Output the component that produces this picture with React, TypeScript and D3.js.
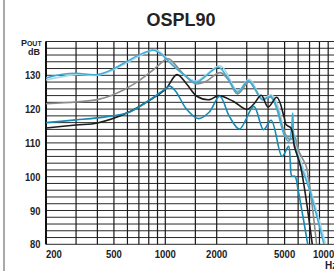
import * as d3 from "d3";
import { useEffect, useRef } from "react";

// frequency (Hz), level (dB)
const lightBlue: [number, number][] = [
  [200, 129.2], [250, 130.3], [300, 130.6], [400, 130.2], [500, 132.0], [600, 134.2],
  [700, 136.0], [850, 137.4], [950, 136.2], [1100, 133.0], [1300, 130.0], [1500, 127.8],
  [1700, 129.5], [2050, 132.4], [2300, 129.5], [2650, 125.0], [3050, 128.4], [3300, 126.5],
  [3700, 122.8], [4150, 123.8], [4500, 120.0], [5000, 112.0], [5300, 110.5], [5480, 114.0],
  [5580, 118.8], [5680, 110.5], [6000, 105.5], [7000, 96.0], [8500, 80.0],
];
const paleBlue: [number, number][] = [
  [200, 128.6], [300, 130.2], [400, 130.0], [500, 131.7], [700, 135.6], [870, 137.6],
  [1000, 135.5], [1100, 133.3], [1500, 128.3], [2100, 132.8], [2650, 125.4], [3100, 128.8],
  [3700, 123.2], [4200, 124.2], [4600, 120.5], [5100, 112.0], [5500, 111.0], [5700, 112.5],
  [6100, 106.0], [7000, 97.0], [8700, 80.0],
];
const grey: [number, number][] = [
  [200, 121.6], [300, 122.1], [400, 122.8], [500, 124.3], [650, 127.3], [830, 131.2],
  [1000, 134.6], [1050, 134.9], [1150, 133.0], [1300, 130.0], [1500, 127.5], [1700, 128.0],
  [2100, 130.8], [2350, 128.5], [2650, 124.5], [3100, 128.2], [3300, 126.5], [3700, 122.8],
  [4150, 123.5], [4500, 120.5], [5000, 113.0], [5400, 111.0], [5700, 112.0], [6000, 108.0],
  [6500, 104.5], [6700, 103.0], [7700, 80.0],
];
const black: [number, number][] = [
  [200, 114.4], [300, 115.3], [400, 115.9], [600, 118.9], [800, 122.5], [1000, 125.8],
  [1170, 130.2], [1330, 127.5], [1530, 123.8], [1820, 122.8], [2050, 124.0], [2500, 122.3],
  [3000, 119.9], [3300, 121.5], [3650, 124.1], [4000, 120.6], [4500, 123.5], [4950, 117.9],
  [5100, 115.4], [5450, 114.4], [5700, 109.0], [6200, 103.0], [7260, 80.0],
];
const teal: [number, number][] = [
  [200, 116.0], [300, 116.8], [400, 117.4], [600, 118.9], [800, 122.5], [1000, 126.0],
  [1060, 126.8], [1150, 125.3], [1330, 120.0], [1560, 117.2], [1800, 119.0], [2085, 123.8],
  [2370, 117.9], [2720, 114.1], [3300, 120.8], [3760, 113.9], [4170, 116.7], [4830, 106.0],
  [5270, 109.0], [5400, 104.0], [5510, 100.2], [5750, 100.1], [6000, 96.0], [6830, 80.0],
];

const series = [
  { name: "pale", data: paleBlue, color: "#a8d8ec" },
  { name: "grey", data: grey, color: "#8c8c8c" },
  { name: "lightBlue", data: lightBlue, color: "#3eaed8" },
  { name: "black", data: black, color: "#1c1c1c" },
  { name: "teal", data: teal, color: "#168ab2" },
];

const freqGrid = [200, 300, 400, 500, 600, 700, 800, 900, 1000, 1500, 2000, 3000, 4000, 5000, 6000, 7000, 8000, 9000, 10000];
const freqLabels = [200, 500, 1000, 2000, 5000, 10000];
const dbLabels = [80, 90, 100, 110, 120, 130];

const App = () => {
  const svgRef = useRef<SVGSVGElement>(null);
  useEffect(() => {
    if (!svgRef.current) return;
    const svg = d3.select(svgRef.current);
    svg.selectAll("*").remove();
    const width = 334;
    const height = 271;
    const marginLeft = 46;
    const plotRight = 336;
    const marginTop = 41.5;
    const plotBottom = 244.3;
    const font = "'Liberation Sans', Arial, sans-serif";

    const x = d3.scaleLog().domain([200, 10000]).range([marginLeft, plotRight]);
    const y = d3.scaleLinear().domain([80, 140]).range([plotBottom, marginTop]);

    svg.append("rect").attr("width", width).attr("height", height).attr("fill", "white");

    // outer frame on the left
    svg.append("line").attr("x1", 4).attr("x2", 4).attr("y1", 0).attr("y2", height)
      .attr("stroke", "#555").attr("stroke-width", 1);

    svg.append("text").attr("x", 181).attr("y", 26).attr("text-anchor", "middle")
      .attr("font-family", font).attr("font-weight", "bold").attr("font-size", 18)
      .attr("fill", "#222").text("OSPL90");

    // grid
    const grid = svg.append("g");
    grid.selectAll(".h").data(d3.range(80, 141, 2)).join("line")
      .attr("x1", marginLeft).attr("x2", plotRight)
      .attr("y1", (d) => y(d)).attr("y2", (d) => y(d))
      .attr("stroke", "#2a2a2a").attr("stroke-width", 1);
    grid.selectAll(".v").data(freqGrid).join("line")
      .attr("x1", (d) => x(d)).attr("x2", (d) => x(d))
      .attr("y1", marginTop).attr("y2", plotBottom)
      .attr("stroke", "#1a1a1a").attr("stroke-width", 1.2);
    grid.append("line").attr("x1", marginLeft).attr("x2", marginLeft)
      .attr("y1", marginTop).attr("y2", plotBottom).attr("stroke", "#111").attr("stroke-width", 2);

    // curves
    const line = d3.line<[number, number]>()
      .x((d) => x(d[0]))
      .y((d) => y(d[1]))
      .curve(d3.curveCatmullRom.alpha(0.5));
    const clip = svg.append("clipPath").attr("id", "plotclip");
    clip.append("rect").attr("x", marginLeft).attr("y", marginTop - 2)
      .attr("width", plotRight - marginLeft).attr("height", plotBottom - marginTop + 2);
    svg.append("g").attr("clip-path", "url(#plotclip)")
      .selectAll("path").data(series).join("path")
      .attr("d", (d) => line(d.data))
      .attr("fill", "none")
      .attr("stroke", (d) => d.color)
      .attr("stroke-width", 1.6);

    // y labels
    svg.append("g").selectAll("text").data(dbLabels).join("text")
      .attr("x", 40.5).attr("y", (d) => y(d) + 4)
      .attr("text-anchor", "end")
      .attr("font-family", font).attr("font-weight", "bold").attr("font-size", 11.5)
      .attr("fill", "#222")
      .attr("textLength", (d) => String(d).length * 5.2)
      .attr("lengthAdjust", "spacingAndGlyphs")
      .text((d) => d);

    const pout = svg.append("text").attr("x", 41.7).attr("y", 45.5).attr("text-anchor", "end")
      .attr("font-family", font).attr("font-weight", "bold").attr("fill", "#222");
    pout.append("tspan").attr("font-size", 9).text("P");
    pout.append("tspan").attr("font-size", 7).text("OUT");
    svg.append("text").attr("x", 40).attr("y", 55).attr("text-anchor", "end")
      .attr("font-family", font).attr("font-weight", "bold").attr("font-size", 9)
      .attr("fill", "#222").text("dB");

    // x labels
    svg.append("g").selectAll("text").data(freqLabels).join("text")
      .attr("x", (d) => (d === 200 ? x(d) : d === 10000 ? 313 : x(d)))
      .attr("y", 258)
      .attr("text-anchor", (d) => (d === 200 || d === 10000 ? "start" : "middle"))
      .attr("font-family", font).attr("font-weight", "bold").attr("font-size", 11.5)
      .attr("fill", "#222")
      .attr("textLength", (d) => String(d).length * 5.3)
      .attr("lengthAdjust", "spacingAndGlyphs")
      .text((d) => d);
    svg.append("text").attr("x", 325).attr("y", 269)
      .attr("font-family", font).attr("font-weight", "bold").attr("font-size", 10)
      .attr("fill", "#222").text("Hz");
  }, []);
  return (
    <svg
      ref={svgRef}
      width={334}
      height={271}
      style={{ position: "absolute", left: 0, top: 0 }}
    ></svg>
  );
};

export default App;
